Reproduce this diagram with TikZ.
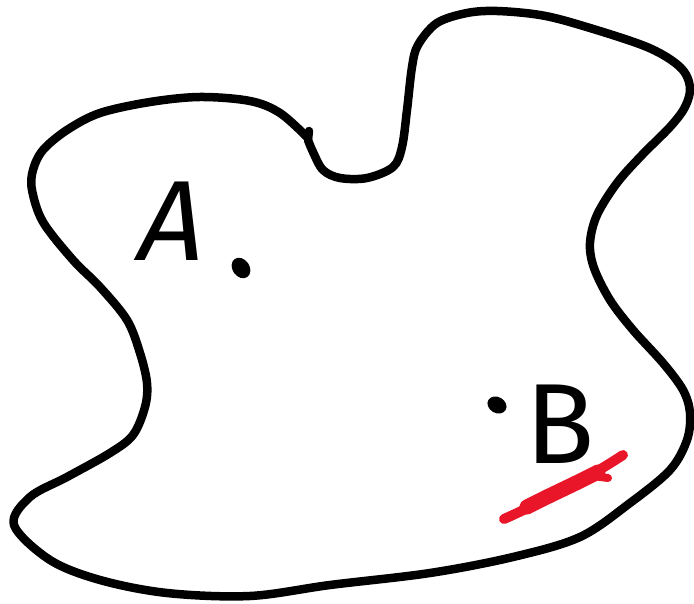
\documentclass[tikz,border=0pt]{standalone}
\usepackage{fontspec}
\setmainfont{Fira Sans}
\definecolor{scribred}{RGB}{232,22,40}
\tikzset{
  outline/.style={line width=8.5pt, line cap=round, line join=round, black},
  letter/.style={inner sep=0pt, font=\fontsize{114}{114}\selectfont},
  scrib/.style={scribred, line cap=round, line join=round},
}
\begin{document}
\begin{tikzpicture}[x=1pt,y=-1pt]
\useasboundingbox (0,0) rectangle (694,604);
% main outline
\draw[outline] plot[smooth, tension=0.55] coordinates {
 (308,140) (313,152) (323,170) (340,178) (367,178) (393,167) (402,147)
 (407,110) (412,67) (418,45) (437,23) (467,13) (497,11) (540,15)
 (580,25) (647,47) (680,67) (690,87) (685,107) (670,127) (642,155)
 (617,183) (597,215) (590,243) (594,268) (610,300) (633,330) (663,363)
 (683,390) (690,413) (687,440) (670,470) (630,503) (580,537) (513,557)
 (430,573) (330,585) (250,596) (167,593) (100,580) (50,560) (14,525)
 (30,497) (67,477) (110,453) (133,435) (145,407) (147,383) (140,353)
 (127,320) (100,287) (73,260) (43,222) (32,190) (33,170) (43,150)
 (67,130) (100,113) (150,102) (200,97) (250,101) (280,113) (308,138)
};
\draw[outline] (308,139) -- (309,131);
% labels
\node[letter, xslant=0.2] (A) at (174,221) {A};
\node[letter] (B) at (560,424) {B};
% dots
\fill[rotate around={35:(241,268)}] (241,268) ellipse[x radius=8.5pt, y radius=11pt];
\coordinate (dA) at (241,268);
\fill[rotate around={-30:(497,405)}] (497,405) ellipse[x radius=10pt, y radius=8pt];
\coordinate (dB) at (497,405);
% red scribble
\coordinate (r1) at (504,519);
\coordinate (r2) at (623,455);
\draw[scrib, line width=10pt] (r1) .. controls (540,503) and (585,480) .. (r2);
\draw[scrib, line width=15pt] (527,507) .. controls (550,495) and (575,484) .. (598,472);
\draw[scrib, line width=8pt] (593,476) -- (608,478);
\draw[scrib, line width=7pt] (515,514) -- (522,509);
\end{tikzpicture}
\end{document}
